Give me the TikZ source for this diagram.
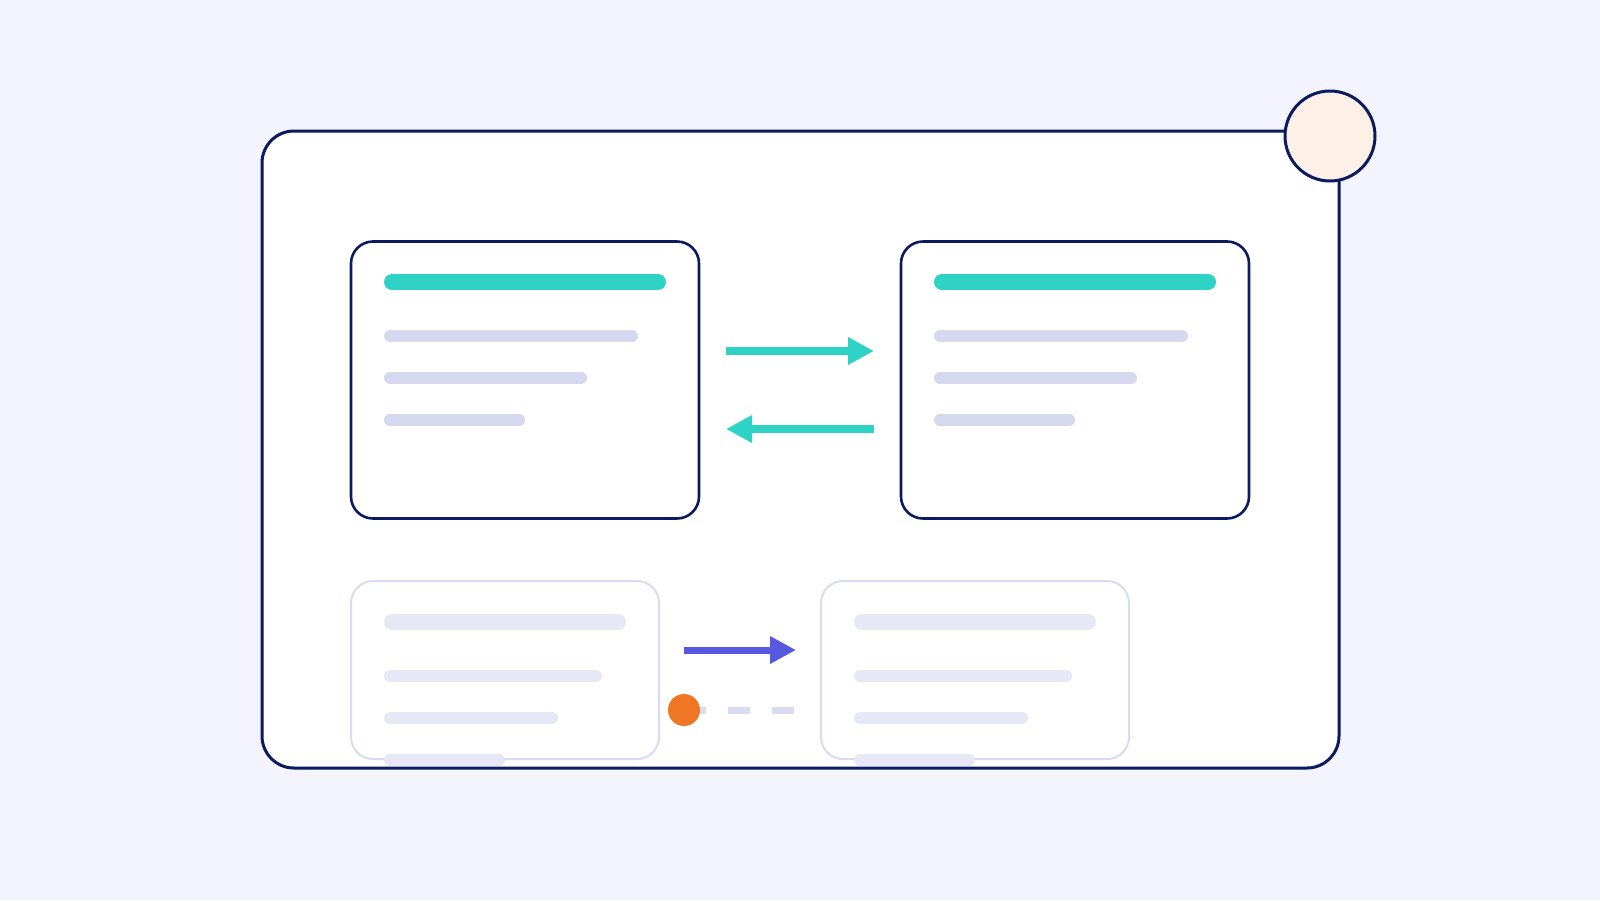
\documentclass[tikz,border=0pt]{standalone}
\usetikzlibrary{arrows.meta}
\definecolor{bg}{HTML}{F3F4FD}
\definecolor{navy}{HTML}{0C1A5E}
\definecolor{tealc}{HTML}{2FD3C5}
\definecolor{barc}{HTML}{D6D8EF}
\definecolor{lightbar}{HTML}{E6E8F6}
\definecolor{lav}{HTML}{D8DBF2}
\definecolor{bluec}{HTML}{5658E0}
\definecolor{orangec}{HTML}{EF7622}
\definecolor{peach}{HTML}{FDF0E6}
\begin{document}
\begin{tikzpicture}[x=1pt,y=-1pt,
  frame/.style={draw=navy,line width=3pt,fill=white,rounded corners=32pt},
  card/.style={draw=navy,line width=2.6pt,fill=white,rounded corners=22pt,minimum width=348pt,minimum height=277pt,inner sep=0pt,outer sep=0pt},
  ghost/.style={draw=lav,line width=2pt,fill=white,rounded corners=22pt,minimum width=308pt,minimum height=178pt,inner sep=0pt,outer sep=0pt},
  titlebar/.style={line width=16pt,line cap=round,draw=tealc},
  linebar/.style={line width=12pt,line cap=round,draw=barc},
  gtitlebar/.style={line width=16pt,line cap=round,draw=lightbar},
  glinebar/.style={line width=12pt,line cap=round,draw=lightbar},
  tealarrow/.style={draw=tealc,line width=8pt,-{Triangle[length=26pt,width=26pt]},shorten <=27pt,shorten >=27pt},
  bluearrow/.style={draw=bluec,line width=7pt,-{Triangle[length=26pt,width=26pt]},shorten <=25pt,shorten >=25pt},
  dashlink/.style={draw=lav,line width=7pt,dash pattern=on 22pt off 22pt},
  dotstyle/.style={circle,fill=orangec,minimum size=32pt,inner sep=0pt},
  badgestyle/.style={circle,draw=navy,line width=3pt,fill=peach,minimum size=90pt,inner sep=0pt}
]
\fill[bg] (0,0) rectangle (1600,900);
\useasboundingbox (0,0) rectangle (1600,900);
% outer frame
\draw[frame] (262,131) rectangle (1339,768);
% cards
\node[card] (c1) at (525,380) {};
\node[card] (c2) at (1075,380) {};
\node[ghost] (c3) at (505,670) {};
\node[ghost] (c4) at (975,670) {};
% bars in top cards
\foreach \dx in {0,550}{
  \draw[titlebar] (392+\dx,282) -- (658+\dx,282);
  \draw[linebar] (390+\dx,336) -- (632+\dx,336);
  \draw[linebar] (390+\dx,378) -- (581+\dx,378);
  \draw[linebar] (390+\dx,420) -- (519+\dx,420);
}
% bars in bottom cards
\foreach \dx in {0,470}{
  \draw[gtitlebar] (392+\dx,622) -- (618+\dx,622);
  \draw[glinebar] (390+\dx,676) -- (596+\dx,676);
  \draw[glinebar] (390+\dx,718) -- (552+\dx,718);
  \draw[glinebar] (390+\dx,760) -- (499+\dx,760);
}
% teal arrows
\draw[tealarrow] (c1.east |- 0,351) -- (c2.west |- 0,351);
\draw[tealarrow] (c2.west |- 0,429) -- (c1.east |- 0,429);
% blue arrow
\draw[bluearrow] (c3.east |- 0,650) -- (c4.west |- 0,650);
% dashed link with orange dot
\coordinate (dotc) at ([xshift=25pt]c3.east |- 0,710);
\coordinate (dashend) at ([xshift=-25pt]c4.west |- 0,710);
\draw[dashlink] (dotc) -- (dashend);
\node[dotstyle] (dot) at (dotc) {};
% corner badge
\node[badgestyle] (badge) at (1330,136) {};
\end{tikzpicture}
\end{document}
